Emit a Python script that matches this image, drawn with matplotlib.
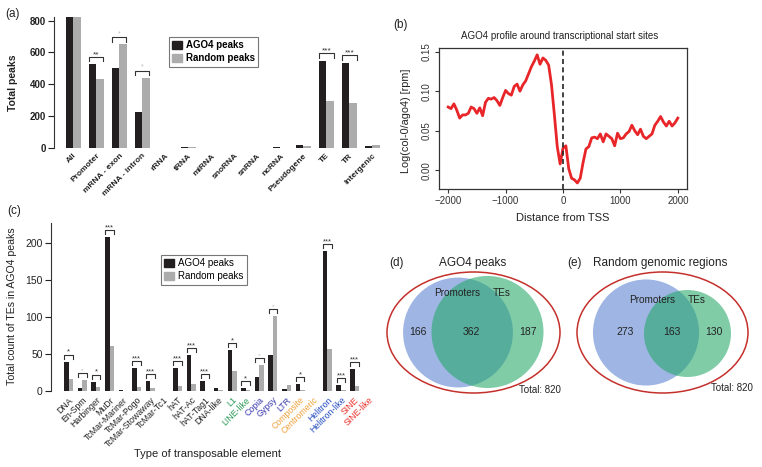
import numpy as np
import matplotlib
matplotlib.use('Agg')
import matplotlib.pyplot as plt
from matplotlib.patches import Ellipse, Circle, Patch

plt.rcParams['font.family'] = ['Liberation Sans', 'DejaVu Sans']

W, H = 762, 467

# ---------------- data ----------------
a_categories = ['All', 'Promoter', 'mRNA - exon', 'mRNA - intron', 'rRNA', 'tRNA', 'miRNA',
                'snoRNA', 'snRNA', 'ncRNA', 'Pseudogene', 'TE', 'TR', 'Intergenic']
a_ago4 = [820, 528, 500, 225, 1, 5, 2, 1, 1, 4, 18, 548, 536, 10]
a_random = [820, 435, 650, 440, 1, 4, 2, 1, 1, 3, 15, 292, 285, 18]
a_signif = ['', '**', '°', '°', '', '', '', '', '', '', '', '***', '***', '']

b_distance = np.arange(-2000, 2001, 50)
b_profile = [0.080, 0.078, 0.084, 0.076, 0.066, 0.070, 0.070, 0.072, 0.080, 0.078,
             0.072, 0.079, 0.069, 0.086, 0.091, 0.090, 0.092, 0.088, 0.082, 0.092,
             0.101, 0.097, 0.095, 0.106, 0.109, 0.100, 0.108, 0.113, 0.122, 0.131,
             0.138, 0.146, 0.134, 0.142, 0.139, 0.133, 0.108, 0.070, 0.030, 0.008,
             0.028, 0.031, 0.002, -0.010, -0.012, -0.016, -0.010, 0.010, 0.027, 0.030,
             0.041, 0.042, 0.040, 0.046, 0.036, 0.046, 0.043, 0.040, 0.031, 0.047,
             0.040, 0.041, 0.046, 0.049, 0.057, 0.050, 0.045, 0.052, 0.043, 0.040,
             0.043, 0.046, 0.057, 0.062, 0.068, 0.061, 0.056, 0.062, 0.056, 0.060,
             0.066]

c_categories = ['DNA', 'En-Spm', 'Harbinger', 'MuDr', 'TcMar-Mariner', 'TcMar-Pogo',
                'TcMar-Stowaway', 'TcMar-Tc1', 'hAT', 'hAT-Ac', 'hAT-Tag1', 'DNA-like',
                'L1', 'LINE-like', 'Copia', 'Gypsy', 'LTR', 'Composite', 'Centromeric',
                'Helitron', 'Helitron-like', 'SINE', 'SINE-like']
c_ago4 = [40, 4, 13, 208, 2, 31, 14, 0.5, 31, 49, 14, 4,
          56, 4, 19, 49, 3, 10, 0.5, 189, 8, 30, 1]
c_random = [16, 15, 6, 61, 1, 6, 4, 0.5, 7, 10, 1, 2,
            27, 1.5, 36, 102, 9, 2, 0.5, 57, 1.5, 7, 0.5]
c_signif = ['*', '°', '*', '***', '', '***', '***', '', '***', '***', '***', '',
            '*', '*', '°', '°', '', '*', '', '***', '***', '***', '']
c_label_colors = ['#222222'] * 12 + ['#2a9a55'] * 2 + ['#3b3bb0'] * 3 + ['#f0a23c'] * 2 + \
                 ['#2850c0'] * 2 + ['#e8302a'] * 2

d_counts = [166, 362, 187]   # promoters only, both, TEs only
e_counts = [273, 163, 130]
total_peaks = 820

BLACK = '#231f20'
GREY = '#acacac'

fig = plt.figure(figsize=(W / 100, H / 100), dpi=100)


def px_rect(x0, y0, x1, y1):
    return [x0 / W, 1 - y1 / H, (x1 - x0) / W, (y1 - y0) / H]


def brackets(ax, pos1, pos2, v1, v2, sig, gap, leg, fs):
    for p1, p2, a, b, s in zip(pos1, pos2, v1, v2, sig):
        if not s:
            continue
        base = max(a, b) + gap
        top = base + leg
        ax.plot([p1 - 0.45, p1 - 0.45, p2 + 0.45, p2 + 0.45], [base, top, top, base],
                color='#333333', lw=0.8, clip_on=False)
        if s == '°':
            ax.text((p1 + p2) / 2, top, '*', ha='center', va='bottom', fontsize=fs - 1,
                    color='#bbbbbb')
        else:
            ax.text((p1 + p2) / 2, top - leg * 0.3, s, ha='center', va='bottom', fontsize=fs,
                    color='#333333')


# ---------------- panel (a) ----------------
axA = fig.add_axes(px_rect(54, 17, 380, 148))
n = len(a_categories)
pb = 3 * np.arange(n) + 1.5
pg = pb + 1
axA.bar(pb, a_ago4, width=1, color=BLACK)
axA.bar(pg, a_random, width=1, color=GREY)
axA.set_xlim(-0.5, 42)
axA.set_ylim(0, 822)
for s in ['top', 'right', 'bottom']:
    axA.spines[s].set_visible(False)
axA.spines['left'].set_color('#333333')
axA.spines['left'].set_linewidth(0.8)
axA.set_yticks([0, 200, 400, 600, 800])
axA.tick_params(axis='y', length=4, width=0.8, labelsize=7, pad=2, colors='#222222')
for t in axA.get_yticklabels():
    t.set_fontweight('bold')
axA.set_xticks(pb + 0.5)
axA.set_xticklabels(a_categories, rotation=45, ha='right', rotation_mode='anchor',
                    fontsize=6, fontweight='bold', color='#222222')
axA.tick_params(axis='x', length=0, pad=3)
brackets(axA, pb, pg, a_ago4, a_random, a_signif, 16, 30, 6)
axA.legend([Patch(color=BLACK), Patch(color=GREY)], ['AGO4 peaks', 'Random peaks'],
           loc='upper left', bbox_to_anchor=(169 / W, 1 - 37 / H), bbox_transform=fig.transFigure,
           frameon=True, fancybox=False, edgecolor='#555555', prop={'weight': 'bold', 'size': 7},
           handlelength=1.0, handleheight=1.0, handletextpad=0.4, borderpad=0.35,
           labelspacing=0.3, borderaxespad=0).get_frame().set_linewidth(0.8)

# ---------------- panel (b) ----------------
axB = fig.add_axes(px_rect(439, 48, 687, 189))
axB.plot(b_distance, b_profile, color='#e8262a', lw=2)
axB.axvline(0, color='#222222', lw=1.2, ls=(0, (3, 2)))
axB.set_xlim(-2160, 2160)
axB.set_ylim(-0.0236, 0.1546)
axB.set_xticks([-2000, -1000, 0, 1000, 2000])
axB.set_yticks([0, 0.05, 0.10, 0.15])
axB.set_yticklabels(['0.00', '0.05', '0.10', '0.15'], rotation=90, va='center')
axB.tick_params(labelsize=7, length=3, width=0.8, colors='#333333', pad=2)
for s in axB.spines.values():
    s.set_color('#333333')
    s.set_linewidth(0.9)

# ---------------- panel (c) ----------------
axC = fig.add_axes(px_rect(51, 223, 375, 391.3))
m = len(c_categories)
qb = 3 * np.arange(m) + 1.5
qg = qb + 1
axC.bar(qb, c_ago4, width=1, color=BLACK)
axC.bar(qg, c_random, width=1, color=GREY)
axC.set_xlim(-1.9, 69.5)
axC.set_ylim(0, 227)
for s in ['top', 'right', 'bottom']:
    axC.spines[s].set_visible(False)
axC.spines['left'].set_color('#333333')
axC.spines['left'].set_linewidth(0.8)
axC.set_yticks([0, 50, 100, 150, 200])
axC.tick_params(axis='y', length=4, width=0.8, labelsize=7.5, pad=2, colors='#222222')
axC.set_xticks(qb + 0.5)
axC.set_xticklabels(c_categories, rotation=45, ha='right', rotation_mode='anchor', fontsize=6.3)
for t, c in zip(axC.get_xticklabels(), c_label_colors):
    t.set_color(c)
axC.tick_params(axis='x', length=0, pad=3)
brackets(axC, qb, qg, c_ago4, c_random, c_signif, 4, 5.5, 5.5)
axC.legend([Patch(color=BLACK), Patch(color=GREY)], ['AGO4 peaks', 'Random peaks'],
           loc='upper left', bbox_to_anchor=(161 / W, 1 - 255 / H), bbox_transform=fig.transFigure,
           frameon=True, fancybox=False, edgecolor='#555555', prop={'size': 7},
           handlelength=1.0, handleheight=1.0, handletextpad=0.4, borderpad=0.35,
           labelspacing=0.3, borderaxespad=0).get_frame().set_linewidth(0.8)

# ---------------- overlay (labels + venn) ----------------
ov = fig.add_axes([0, 0, 1, 1])
ov.set_xlim(0, W)
ov.set_ylim(H, 0)
ov.axis('off')
ov.patch.set_alpha(0)

txt = dict(color='#222222', ha='center', va='center')
ov.text(13, 14, '(a)', fontsize=8.5, **txt)
ov.text(400, 25, '(b)', fontsize=8.5, **txt)
ov.text(14, 211, '(c)', fontsize=8.5, **txt)
ov.text(13.5, 83, 'Total peaks', fontsize=7.5, fontweight='bold', rotation=90, **txt)
ov.text(12.5, 306, 'Total count of TEs in AGO4 peaks', fontsize=7.6, rotation=90, **txt)
ov.text(208, 454, 'Type of transposable element', fontsize=8, **txt)
ov.text(560, 36, 'AGO4 profile around transcriptional start sites', fontsize=7, **txt)
ov.text(563, 218, 'Distance from TSS', fontsize=8, **txt)
ov.text(406, 121, 'Log(col-0/ago4) [rpm]', fontsize=7.8, rotation=90, **txt)

BLUE = '#5a80d0'
GREEN = '#22a868'
RED = '#c4302b'


def venn(cx, cy, ew, eh, bx, gx, gy, k, counts, label_pos, num_pos, title, tpos, tag, tagpos, totpos):
    p_only, both, t_only = counts
    rb = k * np.sqrt(p_only + both)
    rg = k * np.sqrt(both + t_only)
    ov.add_patch(Circle((bx, cy), rb, facecolor=BLUE, alpha=0.58, lw=0))
    ov.add_patch(Circle((gx, gy), rg, facecolor=GREEN, alpha=0.58, lw=0))
    ov.add_patch(Ellipse((cx, cy), ew, eh, facecolor='none', edgecolor=RED, lw=1.1))
    ov.text(label_pos[0][0], label_pos[0][1], 'Promoters', fontsize=7.2, **txt)
    ov.text(label_pos[1][0], label_pos[1][1], 'TEs', fontsize=7.2, **txt)
    for (x, y), v in zip(num_pos, counts):
        ov.text(x, y, str(v), fontsize=7.5, **txt)
    ov.text(tpos[0], tpos[1], title, fontsize=8.5, **txt)
    ov.text(tagpos[0], tagpos[1], tag, fontsize=8.5, **txt)
    ov.text(totpos[0], totpos[1], f'Total: {total_peaks}', fontsize=7, **txt)


venn(473.5, 332.5, 173, 121, 458, 487.5, 332, 2.39, d_counts,
     [(457, 293), (502, 293)], [(418, 332), (471, 332), (528, 332)],
     'AGO4 peaks', (473, 263), '(d)', (397, 263), (540, 390))
venn(662.5, 332.5, 171, 121, 646, 687.5, 333.5, 2.54, e_counts,
     [(652, 300), (697, 300)], [(625, 332), (672, 332), (714, 332)],
     'Random genomic regions', (660, 263), '(e)', (575, 263), (732, 388))

fig.savefig('out.png', dpi=100)
